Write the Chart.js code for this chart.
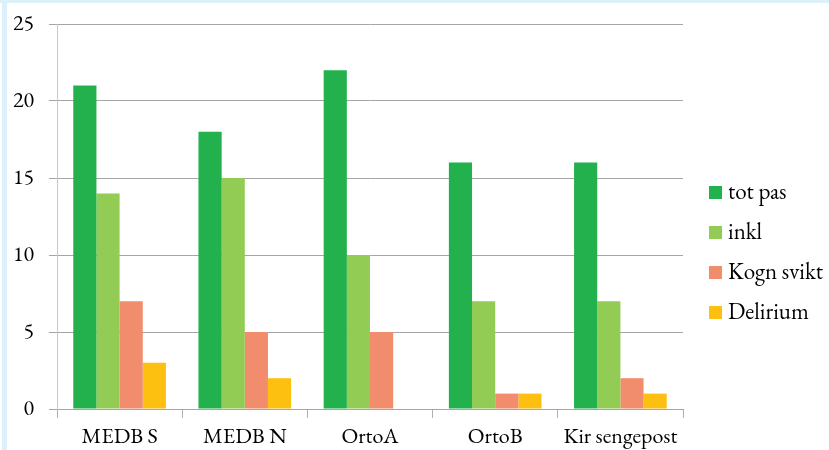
<!DOCTYPE html>
<html>
<head>
<meta charset="utf-8">
<script src="https://cdn.jsdelivr.net/npm/chart.js@4/dist/chart.umd.min.js"></script>
<style>
  html, body { margin: 0; padding: 0; background: #ffffff; }
  #wrap { position: relative; width: 829px; height: 450px; }
</style>
</head>
<body>
<div id="wrap"><canvas id="c" width="829" height="450"></canvas></div>
<script>
// Avdelinger og tellinger
const categories = ['MEDB S', 'MEDB N', 'OrtoA', 'OrtoB', 'Kir sengepost'];
const totPas    = [21, 18, 22, 16, 16];
const inkl      = [14, 15, 10, 7, 7];
const kognSvikt = [7, 5, 5, 1, 2];
const delirium  = [3, 2, 0, 1, 1];
const yTicks    = [0, 5, 10, 15, 20, 25];

const serif = '"EB Garamond", "Liberation Serif", serif';

// Light blue frame along the top and left edge
const framePlugin = {
  id: 'frame',
  beforeDraw(chart) {
    const ctx = chart.ctx;
    ctx.save();
    ctx.fillStyle = '#ffffff';
    ctx.fillRect(0, 0, chart.width, chart.height);
    ctx.fillStyle = '#ddf1fb';
    ctx.fillRect(0, 0, chart.width, 3);
    ctx.fillRect(2, 0, 5, chart.height);
    ctx.restore();
  }
};

// Legend drawn to the right of the plot
const sideLegend = {
  id: 'sideLegend',
  afterDraw(chart) {
    const ctx = chart.ctx;
    ctx.save();
    ctx.font = '23px ' + serif;
    ctx.textBaseline = 'middle';
    ctx.textAlign = 'left';
    chart.data.datasets.forEach((ds, i) => {
      const cy = 193 + i * 40;
      ctx.fillStyle = ds.backgroundColor;
      ctx.fillRect(709, cy - 7, 13, 13);
      ctx.fillStyle = '#000000';
      ctx.fillText(ds.label, 728, cy);
    });
    ctx.restore();
  }
};

function draw() {
  new Chart(document.getElementById('c'), {
    type: 'bar',
    data: {
      labels: categories,
      datasets: [
        { label: 'tot pas',    data: totPas,    backgroundColor: '#22b14c' },
        { label: 'inkl',       data: inkl,      backgroundColor: '#92cc55' },
        { label: 'Kogn svikt', data: kognSvikt, backgroundColor: '#f18c6d' },
        { label: 'Delirium',   data: delirium,  backgroundColor: '#fdc010' }
      ]
    },
    options: {
      responsive: false,
      animation: false,
      devicePixelRatio: 1,
      layout: { padding: { left: 0, top: 24, right: 146, bottom: 0 } },
      datasets: { bar: { categoryPercentage: 0.74, barPercentage: 1.0, borderWidth: 0 } },
      plugins: {
        legend: { display: false },
        tooltip: { enabled: false }
      },
      scales: {
        x: {
          grid: {
            offset: true,
            drawOnChartArea: false,
            drawTicks: true,
            tickLength: 9,
            color: '#b0b0b0'
          },
          border: { display: true, color: '#a6a6a6' },
          ticks: {
            color: '#000000',
            font: { family: serif, size: 22 },
            padding: 6,
            maxRotation: 0,
            autoSkip: false
          },
          afterFit(scale) { scale.height = 41; }
        },
        y: {
          min: 0,
          max: 25,
          afterBuildTicks(scale) { scale.ticks = yTicks.map(v => ({ value: v })); },
          grid: {
            color: '#a6a6a6',
            tickLength: 8,
            drawTicks: true
          },
          border: { display: true, color: '#c8c8c8' },
          ticks: {
            color: '#000000',
            font: { family: serif, size: 22, lineHeight: 0.8 },
            padding: 15
          },
          afterFit(scale) { scale.width = 57; }
        }
      }
    },
    plugins: [framePlugin, sideLegend]
  });
}

if (document.fonts && document.fonts.load) {
  document.fonts.load('22px "EB Garamond"').then(draw, draw);
} else {
  draw();
}
</script>
</body>
</html>
